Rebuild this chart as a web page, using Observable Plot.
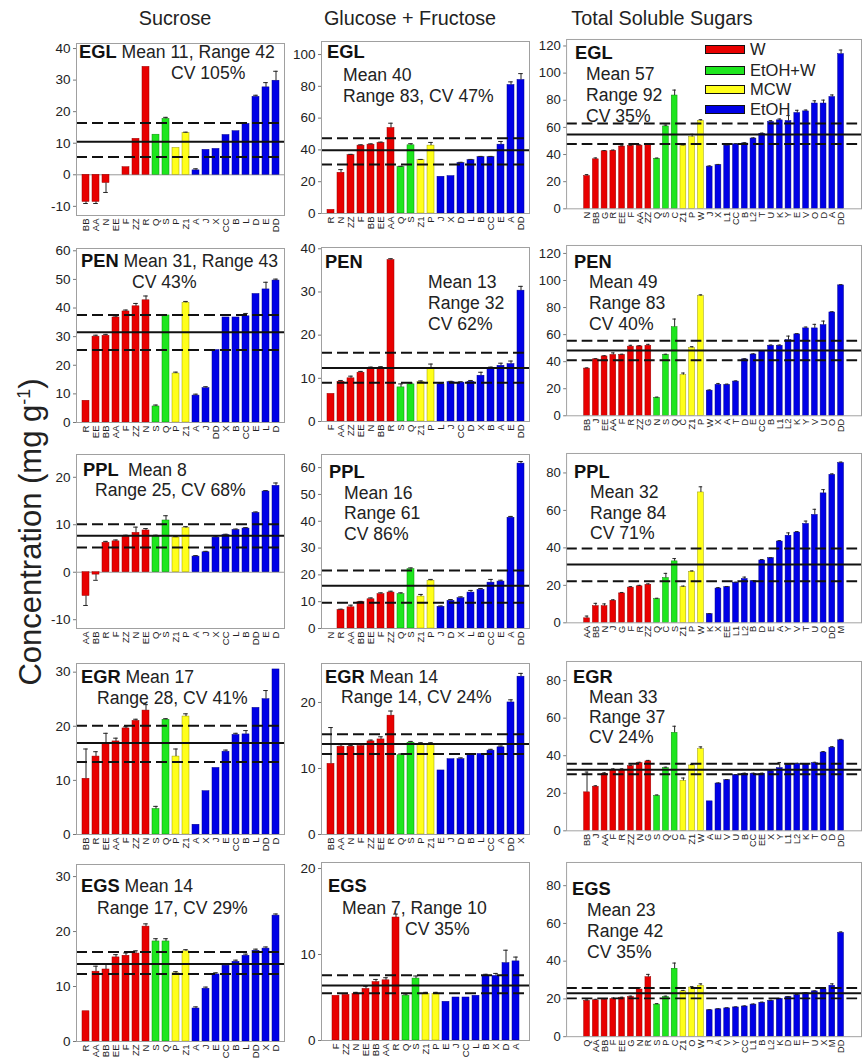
<!DOCTYPE html>
<html><head><meta charset="utf-8">
<script src="https://cdn.jsdelivr.net/npm/d3@7"></script>
<script src="https://cdn.jsdelivr.net/npm/@observablehq/plot@0.6"></script>
<style>
html,body{margin:0;padding:0;background:#fff;overflow:hidden;width:862px;height:1059px;}
#root{position:relative;width:862px;height:1059px;overflow:hidden;font-family:"Liberation Sans",Arial,sans-serif;color:#222;}
.panel{position:absolute;}
.ann{position:absolute;font-size:17.6px;white-space:nowrap;line-height:20px;color:#222;}
.ann b{font-size:18.3px;color:#111;}
.title{position:absolute;font-size:19.8px;white-space:nowrap;transform:translate(-50%,-50%);}
.ylab{position:absolute;font-size:31px;white-space:nowrap;transform:translate(-50%,-50%) rotate(-90deg);}
.leg{position:absolute;font-size:16.5px;white-space:nowrap;line-height:18px;}
.sw{position:absolute;width:38px;height:7px;border:1px solid #111;}
</style></head><body><div id="root"></div>
<script>
// ---------- DATA ----------
const groupNames = ["W", "EtOH+W", "MCW", "EtOH"];
const columnTitles = ["Sucrose", "Glucose + Fructose", "Total Soluble Sugars"];

// Sucrose
const sucEGL_labels = ["BB","AA","N","EE","F","ZZ","R","Q","S","P","Z1","A","J","X","CC","B","L","D","E","DD"];
const sucEGL_values = [-8.6,-8.6,-2.6,0,2.4,11.4,34.2,12.7,17.7,8.5,13.2,1.4,7.9,8.2,12.6,13.8,16.1,24.7,27.7,29.8];
const sucEGL_err    = [0.5,0.5,3,0,0,0,0,0,0.5,0,0.3,0.5,0,0,0,0,0,0.5,1.5,3];
const sucEGL_groups = [7,2,2,9];
const sucEGL_lines  = [10.5,5.6,16.4];

const sucPEN_labels = ["R","EE","BB","AA","F","ZZ","N","S","Q","P","Z1","A","J","DD","X","B","CC","E","L","D"];
const sucPEN_values = [7.6,30,30.3,36.7,38.8,40.6,42.7,5.6,37.4,17.1,41.8,9.4,12,25.3,36.7,36.7,37.1,44.9,46.5,49.6];
const sucPEN_err    = [0,0.5,0.5,0.5,0.5,1,1.5,0.5,0,0.5,0.5,0.5,0.5,0,0,0,1,0,2.5,0.5];
const sucPEN_groups = [7,2,2,9];
const sucPEN_lines  = [31.5,25.3,37.6];

const sucPPL_labels = ["AA","BB","R","F","ZZ","N","EE","Q","S","Z1","P","A","J","X","CC","L","B","DD","E","D"];
const sucPPL_values = [-5,-0.5,6.2,6.5,7.5,8.3,8.8,7.5,10.9,7.3,9.3,3.3,4.2,7.3,7.8,8.9,9.2,12.5,17,18.2];
const sucPPL_err    = [2,1.2,0.3,0.3,0.3,1.2,0.4,0.3,1,0.2,0.3,0.2,0.2,0.3,0.2,0.2,0.2,0.2,0.2,0.6];
const sucPPL_groups = [7,2,2,9];
const sucPPL_lines  = [7.7,5.2,10.1];

const sucEGR_labels = ["BB","R","EE","AA","F","ZZ","N","S","Q","P","Z1","A","X","J","E","CC","B","L","DD","D"];
const sucEGR_values = [10.3,14.4,16.8,17.2,19.6,21,22.9,4.7,21.2,14.4,21.8,1.8,8,12.3,15.3,18.4,18.5,23.4,25,30.5];
const sucEGR_err    = [5.5,0.9,1.9,0.6,0.3,0.3,1.1,0.5,0.2,1.4,0.5,0,0,0,0.3,0.3,0.7,0,1.6,0];
const sucEGR_groups = [7,2,2,9];
const sucEGR_lines  = [16.9,13.4,20.1];

const sucEGS_labels = ["R","AA","BB","EE","F","ZZ","N","S","Q","P","Z1","A","J","E","CC","B","L","DD","X","D"];
const sucEGS_values = [5.5,12.7,13.1,15.3,15.6,16,20.9,18.2,18.2,12.4,16.4,6,9.6,12.2,13.8,14.5,15.6,16.5,16.9,22.9];
const sucEGS_err    = [0,1,1,0.5,0.5,0.5,0.5,0.5,0.5,0.3,0.3,0.3,0.3,0.3,0.3,0.3,0.3,0.3,0.3,0.3];
const sucEGS_groups = [7,2,2,9];
const sucEGS_lines  = [14.1,12.3,16.3];

// Glucose + Fructose
const gfEGL_labels = ["R","N","ZZ","F","BB","EE","AA","Q","S","Z1","P","J","X","D","L","B","CC","E","A","DD"];
const gfEGL_values = [2.3,25.6,36.7,42.7,43.3,44.4,53.8,29.2,42.9,33.5,42.7,23.1,23.5,31.7,33.5,35.4,35.4,43.3,80.8,84];
const gfEGL_err    = [0,2,0.5,0.5,0.5,0.5,3,0.5,1,0.5,2,0,0,0.5,0.5,0.5,0.5,2,2,4];
const gfEGL_groups = [7,2,2,9];
const gfEGL_lines  = [39.8,30.8,47.3];

const gfPEN_labels = ["F","AA","ZZ","EE","N","BB","R","S","Q","Z1","P","L","J","CC","D","X","B","A","E","DD"];
const gfPEN_values = [6.4,9.2,10,11.3,12.3,12.4,37.4,7.9,8.6,9.1,12.1,8.6,9.1,9,9.2,10.6,12.3,12.9,13.3,30.3];
const gfPEN_err    = [0,0.3,0.5,0.3,0.3,0.3,0.3,0.8,0.3,0.3,1.2,0.2,0.2,0.2,0.3,0.8,0.3,0.6,0.7,1];
const gfPEN_groups = [7,2,2,9];
const gfPEN_lines  = [12.4,9,15.9];

const gfPPL_labels = ["N","R","AA","BB","EE","F","ZZ","Q","S","Z1","P","J","D","X","L","B","CC","E","A","DD"];
const gfPPL_values = [0,6.9,7.9,9.8,10.9,12.8,13.4,12.8,22.1,11.9,17.8,8.1,10.3,11.3,13.4,14.4,17.1,17.5,41.3,61.5];
const gfPPL_err    = [0,0.3,0.8,0.3,0.5,0.5,0.5,0.5,0.5,0.8,0.5,0.3,0.5,0.5,0.8,0.5,1.2,0.5,0.5,0.8];
const gfPPL_groups = [7,2,2,9];
const gfPPL_lines  = [15.9,9.6,21.6];

const gfEGR_labels = ["BB","AA","N","F","ZZ","EE","R","Q","S","P","Z1","E","J","D","B","L","CC","A","DD","X"];
const gfEGR_values = [10.7,13.3,13.3,13.4,14.1,14.4,18,12,13.9,13.6,13.6,9.7,11.4,11.4,12,12.2,12.7,13.2,20,23.9];
const gfEGR_err    = [5.5,0.3,0.2,0.3,0.2,0.4,0.7,0.2,0.2,0.3,0.3,0,0,0.2,0.2,0,0.2,0.2,0.4,0.5];
const gfEGR_groups = [7,2,2,9];
const gfEGR_lines  = [13.7,12.2,15.2];

const gfEGS_labels = ["F","ZZ","N","EE","BB","AA","R","Q","S","Z1","P","E","J","CC","L","B","X","D","A"];
const gfEGS_values = [5.2,5.3,5.4,6,6.8,7,14.3,5.2,7.2,5.4,5.4,4.5,5,5,5.2,7.5,7.5,9,9.2];
const gfEGS_err    = [0,0,0.2,0.3,0.3,0.3,0.4,0.2,0.3,0.2,0.2,0,0,0,0,0.2,0.3,1.5,0.5];
const gfEGS_groups = [7,2,2,8];
const gfEGS_lines  = [6.4,5.5,7.6];

// Total soluble sugars
const tssEGL_labels = ["N","BB","G","R","EE","F","AA","ZZ","Q","S","C","Z1","P","W","J","X","L1","CC","B","L2","T","U","K","Y","E","V","O","D","A","DD"];
const tssEGL_values = [24.2,36.5,42.4,42.8,45.9,46.4,46.6,47.1,36.9,60.7,83.5,46.6,52.9,64.7,31.1,32.2,46.6,47.5,48.2,51.8,55.3,64,65.2,64.7,70.6,71.8,77.6,77.6,82.4,114];
const tssEGL_err    = [1,1,0.5,0.5,0.5,0.5,0.5,0.5,0.5,1,4,0.5,2,1,0.5,0.5,0.5,0.5,0.5,0.5,0.5,1,1,4,2,1,2,2.5,1.5,3];
const tssEGL_groups = [8,3,3,16];
const tssEGL_lines  = [54.8,47.8,62.8];

const tssPEN_labels = ["BB","J","EE","AA","F","R","ZZ","G","N","S","Q","C","Z1","P","W","X","A","T","D","E","CC","B","L1","L2","K","Y","V","U","O","DD"];
const tssPEN_values = [34.9,41.7,43.9,45,45,51.1,51.3,51.8,13.3,45,65.5,30.1,50.1,88.4,18.6,22.9,22.9,25.3,41.7,45.3,47.7,51.8,51.8,55.9,60.2,64.6,64.6,67,76.4,96.4];
const tssPEN_err    = [0.5,0.5,0.5,1.5,0.5,1,0.5,1,0.5,0.5,6,1.5,1,1,0.5,1,0.5,0.5,0.5,0.5,0.5,0.5,0.5,3,0.5,1,3,3,0.5,0.5];
const tssPEN_groups = [8,3,3,16];
const tssPEN_lines  = [48.2,41,55.4];

const tssPPL_labels = ["AA","BB","N","J","G","F","R","ZZ","Q","C","S","Z1","P","W","K","X","EE","L1","L2","B","D","E","A","Y","V","T","U","O","DD","M"];
const tssPPL_values = [2.4,8.9,8.9,11.8,15.7,18.8,19.5,20.3,12.6,23.9,32.8,19.1,27.2,69.6,4.6,18.3,19.1,21.4,23.4,22.2,33.3,34.5,43.4,46.5,48.2,52.8,57.6,69.1,79,85.3];
const tssPPL_err    = [1.2,1.5,1.2,0.5,0.5,0.5,0.5,0.5,0.5,2.5,1.5,0.5,0.5,3,0.3,0.5,0.3,0.3,1,0.3,0.5,0.3,0.5,1.5,0.5,1.5,3,2,0.5,0.5];
const tssPPL_groups = [8,3,3,16];
const tssPPL_lines  = [31.1,22.2,39.7];

const tssEGR_labels = ["BB","J","AA","F","R","ZZ","N","G","S","Q","C","P","Z1","W","A","E","V","U","B","CC","EE","X","Y","L1","L2","K","T","O","D","DD"];
const tssEGR_values = [20.5,23.5,30.4,32.5,32.5,34.4,36,37,18.6,33.4,52.2,26.6,34.8,43.5,15.7,25.2,27,29.6,30.4,30.4,30.4,31.7,33.4,35.1,35.7,35.3,36,41.7,44.3,48.2];
const tssEGR_err    = [10.8,0.5,0.5,0.5,0.5,0.5,0.5,0.5,0.5,0.5,3.5,1.5,0.5,1.2,0,0.3,0.3,0.3,0.3,0.3,0.3,0.3,3,0.3,0.3,0.3,0.5,0.5,0.5,0.5];
const tssEGR_groups = [8,3,3,16];
const tssEGR_lines  = [32.5,30.1,35.7];

const tssEGS_labels = ["Q","AA","BB","F","EE","G","N","R","S","P","C","Z1","O","W","J","A","V","Y","CC","L1","B","L2","K","D","E","T","U","X","M","DD"];
const tssEGS_values = [19,19.3,19.6,20,20.4,21,25,31.5,17,21,36,24,26,27,14,14.5,15,15.5,16,17,18,19,20,21,22,23,24,25,27,55];
const tssEGS_err    = [0.5,0.5,0.5,0.5,0.5,0.5,1,1.5,0.5,0.5,3,0.5,0.5,1,0.3,0.3,0.3,0.3,0.3,0.3,0.3,0.3,0.3,0.3,0.3,0.3,0.3,1,1,0.5];
const tssEGS_groups = [8,3,3,16];
const tssEGS_lines  = [23,20.3,25.8];

// y-axis tick labels per panel
const ticksSucEGL = [-10,0,10,20,30,40];
const ticksSucPEN = [0,10,20,30,40,50,60];
const ticksSucPPL = [-10,0,10,20];
const ticksSucEGR = [0,10,20,30];
const ticksSucEGS = [0,10,20,30];
const ticksGfEGL  = [0,20,40,60,80,100];
const ticksGfPEN  = [0,10,20,30,40];
const ticksGfPPL  = [0,10,20,30,40,50,60];
const ticksGfEGR  = [0,10,20];
const ticksGfEGS  = [0,10,20];
const ticksTssEGL = [0,20,40,60,80,100,120];
const ticksTssPEN = [0,20,40,60,80,100,120];
const ticksTssPPL = [0,20,40,60,80];
const ticksTssEGR = [0,20,40,60,80];
const ticksTssEGS = [0,20,40,60,80];

// ---------- LAYOUT / STYLE ----------
const FONT = '"Liberation Sans", Arial, sans-serif';
const FILL = ["#e80000", "#1ee61e", "#ffff1a", "#0000e6"];
const EDGE = ["#990000", "#0a8a0a", "#9a9a00", "#00008a"];
const COLS = [{left:76, right:284}, {left:321, right:529}, {left:567, right:870}];

const panels = [
  {c:0, top:43,  bottom:215,  domain:[-12.9,41.6], L:sucEGL_labels, V:sucEGL_values, E:sucEGL_err, G:sucEGL_groups, M:sucEGL_lines, T:ticksSucEGL},
  {c:1, top:41,  bottom:213,  domain:[0,108.2],    L:gfEGL_labels,  V:gfEGL_values,  E:gfEGL_err,  G:gfEGL_groups,  M:gfEGL_lines,  T:ticksGfEGL},
  {c:2, top:39,  bottom:213,  domain:[0,124.8],    L:tssEGL_labels, V:tssEGL_values, E:tssEGL_err, G:tssEGL_groups, M:tssEGL_lines, T:ticksTssEGL},
  {c:0, top:248, bottom:422,  domain:[0,60.8],     L:sucPEN_labels, V:sucPEN_values, E:sucPEN_err, G:sucPEN_groups, M:sucPEN_lines, T:ticksSucPEN},
  {c:1, top:247, bottom:421,  domain:[0,40.3],     L:gfPEN_labels,  V:gfPEN_values,  E:gfPEN_err,  G:gfPEN_groups,  M:gfPEN_lines,  T:ticksGfPEN},
  {c:2, top:245, bottom:420,  domain:[0,125.9],    L:tssPEN_labels, V:tssPEN_values, E:tssPEN_err, G:tssPEN_groups, M:tssPEN_lines, T:ticksTssPEN},
  {c:0, top:454, bottom:628,  domain:[-11.85,24.8],L:sucPPL_labels, V:sucPPL_values, E:sucPPL_err, G:sucPPL_groups, M:sucPPL_lines, T:ticksSucPPL},
  {c:1, top:454, bottom:628,  domain:[0,64.9],     L:gfPPL_labels,  V:gfPPL_values,  E:gfPPL_err,  G:gfPPL_groups,  M:gfPPL_lines,  T:ticksGfPPL},
  {c:2, top:453, bottom:627,  domain:[0,90.4],     L:tssPPL_labels, V:tssPPL_values, E:tssPPL_err, G:tssPPL_groups, M:tssPPL_lines, T:ticksTssPPL},
  {c:0, top:663, bottom:834,  domain:[0,31.6],     L:sucEGR_labels, V:sucEGR_values, E:sucEGR_err, G:sucEGR_groups, M:sucEGR_lines, T:ticksSucEGR},
  {c:1, top:663, bottom:834,  domain:[0,25.9],     L:gfEGR_labels,  V:gfEGR_values,  E:gfEGR_err,  G:gfEGR_groups,  M:gfEGR_lines,  T:ticksGfEGR},
  {c:2, top:661, bottom:835,  domain:[0,90.2],     L:tssEGR_labels, V:tssEGR_values, E:tssEGR_err, G:tssEGR_groups, M:tssEGR_lines, T:ticksTssEGR},
  {c:0, top:864, bottom:1041, domain:[0,32.2],     L:sucEGS_labels, V:sucEGS_values, E:sucEGS_err, G:sucEGS_groups, M:sucEGS_lines, T:ticksSucEGS},
  {c:1, top:862, bottom:1040, domain:[0,20.7],     L:gfEGS_labels,  V:gfEGS_values,  E:gfEGS_err,  G:gfEGS_groups,  M:gfEGS_lines,  T:ticksGfEGS},
  {c:2, top:862, bottom:1041, domain:[0,92.3],     L:tssEGS_labels, V:tssEGS_values, E:tssEGS_err, G:tssEGS_groups, M:tssEGS_lines, T:ticksTssEGS}
];

// annotation texts: [left, centerY, html]
const annotations = [
  [79,52,"<b>EGL</b> Mean 11, Range 42"],[171,73,"CV 105%"],
  [327,52,"<b>EGL</b>"],[343,75,"Mean 40"],[343,96,"Range 83, CV 47%"],
  [575,53,"<b>EGL</b>"],[586,74,"Mean 57"],[586,95,"Range 92"],[586,116,"CV 35%"],
  [81,261,"<b>PEN</b> Mean 31, Range 43"],[132,282,"CV 43%"],
  [325,262,"<b>PEN</b>"],[428,282,"Mean 13"],[428,303,"Range 32"],[428,324,"CV 62%"],
  [574,262,"<b>PEN</b>"],[589,282,"Mean 49"],[589,303,"Range 83"],[589,324,"CV 40%"],
  [83,470,"<b>PPL</b>"],[128,470,"Mean 8"],[95,490,"Range 25, CV 68%"],
  [329,472,"<b>PPL</b>"],[344,493,"Mean 16"],[344,513,"Range 61"],[344,534,"CV 86%"],
  [574,472,"<b>PPL</b>"],[590,492,"Mean 32"],[590,513,"Range 84"],[590,533,"CV 71%"],
  [81,677,"<b>EGR</b> Mean 17"],[97,698,"Range 28, CV 41%"],
  [325,677,"<b>EGR</b> Mean 14"],[341,697,"Range 14, CV 24%"],
  [573,677,"<b>EGR</b>"],[589,697,"Mean 33"],[589,717,"Range 37"],[589,737,"CV 24%"],
  [81,886,"<b>EGS</b> Mean 14"],[97,908,"Range 17, CV 29%"],
  [328,886,"<b>EGS</b>"],[342,908,"Mean 7, Range 10"],[405,929,"CV 35%"],
  [572,889,"<b>EGS</b>"],[587,910,"Mean 23"],[587,931,"Range 42"],[587,952,"CV 35%"]
];
const titlePos = [[175,18],[410,18],[662,18]];
const legendPos = {x:705, ys:[49,70,89,109]};

// ---------- DRAW ----------
const root = document.getElementById("root");
const ML = 34, MR = 1, MT = 1, MB = 26;

panels.forEach(p => {
  const col = COLS[p.c];
  const grp = [];
  p.G.forEach((cnt, gi) => { for (let i = 0; i < cnt; i++) grp.push(gi); });
  const data = p.L.map((lab, i) => ({lab, v: p.V[i], e: p.E[i], g: grp[i]}));
  const errData = data.filter(d => d.e > 0);
  const tip = d => d.v + (d.v < 0 ? -d.e : d.e);
  const fw = col.right - col.left, fh = p.bottom - p.top;
  const chart = Plot.plot({
    width: fw + ML + MR, height: fh + MT + MB,
    marginLeft: ML, marginRight: MR, marginTop: MT, marginBottom: MB,
    style: {fontFamily: FONT, background: "transparent", overflow: "visible"},
    x: {type: "band", domain: p.L, paddingInner: 0.33, paddingOuter: 0.55, axis: null},
    y: {domain: p.domain, axis: null},
    color: {type: "identity"},
    marks: [
      p.domain[0] < 0 ? Plot.ruleY([0], {stroke: "#9a9a9a", strokeWidth: 1}) : null,
      Plot.barY(data, {x: "lab", y1: 0, y2: "v", fill: d => FILL[d.g], stroke: d => EDGE[d.g], strokeWidth: 0.5}),
      Plot.ruleX(errData, {x: "lab", y1: "v", y2: tip, stroke: "#222", strokeWidth: 1}),
      Plot.tickY(errData, {x: "lab", y: tip, stroke: "#222", strokeWidth: 1, insetLeft: 1.2, insetRight: 1.2}),
      Plot.ruleY([p.M[1], p.M[2]], {stroke: "#111", strokeWidth: 2, strokeDasharray: "11,5"}),
      Plot.ruleY([p.M[0]], {stroke: "#111", strokeWidth: 2}),
      Plot.frame({stroke: "#a0a0a0", strokeWidth: 1}),
      Plot.axisY({ticks: p.T, tickSize: 3, tickPadding: 3, fontSize: 13.5, stroke: "#777", fill: "#222", tickFormat: d => String(d), label: null}),
      Plot.axisX({tickSize: 0, tickRotate: -90, tickPadding: 3, fontSize: 9.5, fill: "#222", label: null})
    ]
  });
  const div = document.createElement("div");
  div.className = "panel";
  div.style.left = (col.left - ML) + "px";
  div.style.top = (p.top - MT) + "px";
  div.appendChild(chart);
  root.appendChild(div);
});

columnTitles.forEach((t, i) => {
  const d = document.createElement("div");
  d.className = "title";
  d.style.left = titlePos[i][0] + "px";
  d.style.top = titlePos[i][1] + "px";
  d.textContent = t;
  root.appendChild(d);
});

const yl = document.createElement("div");
yl.className = "ylab";
yl.style.left = "31px"; yl.style.top = "532px";
yl.innerHTML = "Concentration (mg g<sup style='font-size:18px'>-1</sup>)";
root.appendChild(yl);

annotations.forEach(([x, y, h]) => {
  const d = document.createElement("div");
  d.className = "ann";
  d.style.left = x + "px";
  d.style.top = (y - 10) + "px";
  d.innerHTML = h;
  root.appendChild(d);
});

groupNames.forEach((g, i) => {
  const s = document.createElement("div");
  s.className = "sw";
  s.style.left = legendPos.x + "px";
  s.style.top = (legendPos.ys[i] - 4) + "px";
  s.style.background = FILL[i];
  root.appendChild(s);
  const t = document.createElement("div");
  t.className = "leg";
  t.style.left = (legendPos.x + 45) + "px";
  t.style.top = (legendPos.ys[i] - 9) + "px";
  t.textContent = g;
  root.appendChild(t);
});
</script></body></html>
